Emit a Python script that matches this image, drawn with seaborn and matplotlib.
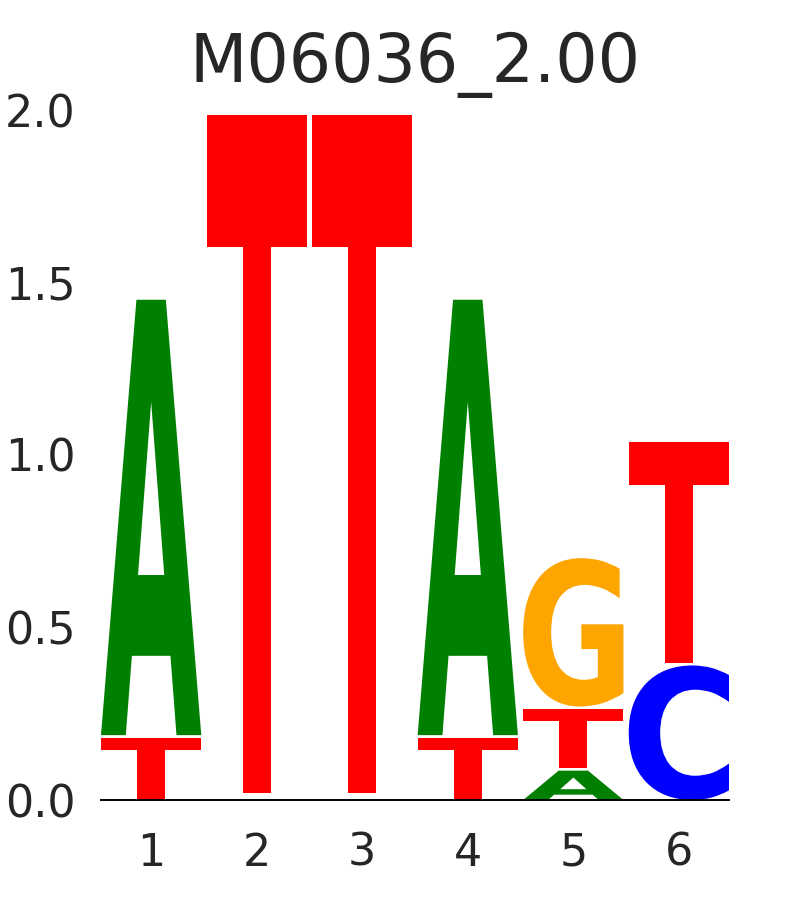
import numpy as np
import matplotlib
matplotlib.use("Agg")
import matplotlib.pyplot as plt
import seaborn as sns
from matplotlib.textpath import TextPath
from matplotlib.patches import PathPatch
from matplotlib.font_manager import FontProperties
from matplotlib.transforms import Affine2D

# Motif data (bits), letters stacked bottom to top
positions = [1, 2, 3, 4, 5, 6]
letters = [
    ["T", "A"],
    ["T"],
    ["T"],
    ["T", "A"],
    ["A", "T", "G"],
    ["C", "T"],
]
heights = [
    [0.18, 1.262],
    [1.965],
    [1.965],
    [0.18, 1.262],
    [0.085, 0.17, 0.43],
    [0.39, 0.64],
]
floors = [0.0, 0.02, 0.02, 0.0, 0.0, 0.0]
title = "M06036_2.00"

COLORS = {"A": "#008000", "C": "#0000ff", "G": "#ffa500", "T": "#ff0000"}
GLYPH_WIDTH = 0.95
GAP = 0.008

sns.set_theme(style="white")
plt.rcParams["font.family"] = ["DejaVu Sans"]

FONT = FontProperties(family="DejaVu Sans", weight="bold")


def draw_glyph(ax, letter, x, bottom, height, width, color):
    """Draw a letter stretched to fill the given box."""
    path = TextPath((0, 0), letter, size=1, prop=FONT)
    ext = path.get_extents()
    tr = (Affine2D()
          .translate(-ext.x0, -ext.y0)
          .scale(width / ext.width, height / ext.height)
          .translate(x - width / 2, bottom))
    patch = PathPatch(tr.transform_path(path), facecolor=color,
                      edgecolor="none", linewidth=0)
    ax.add_patch(patch)


fig = plt.figure(figsize=(8.1, 9), dpi=100)
ax = fig.add_axes([101 / 810, 100 / 900, 628 / 810, 690 / 900])

for pos, lets, hts, floor in zip(positions, letters, heights, floors):
    y = floor
    for let, h in zip(lets, hts):
        draw_glyph(ax, let, pos, y, h, GLYPH_WIDTH, COLORS[let])
        y += h + GAP

ax.set_xlim(positions[0] - GLYPH_WIDTH / 2, positions[-1] + GLYPH_WIDTH / 2)
ax.set_ylim(0, 2.0)
ax.set_xticks(positions)
ax.set_xticklabels([str(p) for p in positions])
ax.set_yticks([0.0, 0.5, 1.0, 1.5, 2.0])
ax.set_yticklabels(["0.0", "0.5", "1.0", "1.5", "2.0"])
ax.tick_params(axis="both", labelsize=32, length=0, colors="#262626")
ax.tick_params(axis="x", pad=23)
ax.tick_params(axis="y", pad=18)

for side in ["top", "right", "left"]:
    ax.spines[side].set_visible(False)
ax.spines["bottom"].set_color("black")
ax.spines["bottom"].set_linewidth(1.4)

ax.set_title(title, fontsize=48, color="#262626", pad=20)

fig.savefig("out.png", dpi=100)
